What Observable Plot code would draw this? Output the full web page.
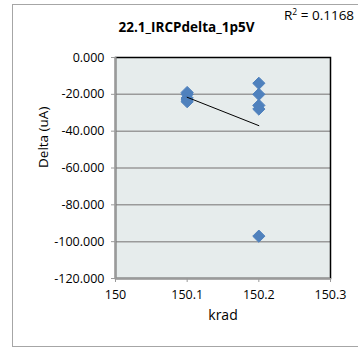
<!DOCTYPE html>
<html>
<head>
<meta charset="utf-8">
<script src="https://cdn.jsdelivr.net/npm/d3@7"></script>
<script src="https://cdn.jsdelivr.net/npm/@observablehq/plot@0.6"></script>
<style>
  html, body { margin: 0; padding: 0; background: #fff; }
  #wrap { position: relative; width: 358px; height: 348px; overflow: hidden; font-family: "Open Sans", sans-serif; }
  #frame { position: absolute; left: 12px; top: 4px; width: 400px; height: 343px; border: 1.5px solid #a6a6a6; box-sizing: border-box; }
  #title { position: absolute; left: 0; width: 373px; top: 18px; text-align: center; font-weight: bold; font-size: 13.5px; color: #000; }
  #r2 { position: absolute; left: 284px; top: 6px; font-size: 13.5px; color: #000; white-space: nowrap; }
  #chart { position: absolute; left: 0; top: 0; }
</style>
</head>
<body>
<div id="wrap">
  <div id="frame"></div>
  <div id="chart"></div>
  <div id="title">22.1_IRCPdelta_1p5V</div>
  <div id="r2">R<sup style="font-size:8.5px;vertical-align:5px;line-height:0">2</sup> = 0.1168</div>
</div>
<script>
// Data
const kradA = 150.1;
const deltaA = [-19, -20, -22, -23, -24];
const kradB = 150.2;
const deltaB = [-14, -20, -26, -28, -97];
const yTicks = [0, -20, -40, -60, -80, -100, -120];
const xTicks = [150, 150.1, 150.2, 150.3];

const points = [
  ...deltaA.map(v => ({krad: kradA, delta: v})),
  ...deltaB.map(v => ({krad: kradB, delta: v}))
];

const chart = Plot.plot({
  width: 358,
  height: 348,
  marginLeft: 115,
  marginRight: 28,
  marginTop: 57,
  marginBottom: 70,
  style: {background: "transparent", fontFamily: "'Open Sans', sans-serif", fontSize: "12px", color: "#000"},
  x: {domain: [150, 150.3], ticks: xTicks, tickFormat: d => String(+d.toFixed(1)), label: null},
  y: {domain: [-120, 0], ticks: yTicks, tickFormat: d => d.toFixed(3), label: null},
  marks: [
    Plot.frame({fill: "#E6ECEC", stroke: null}),
    Plot.ruleY(yTicks.filter(t => t !== -120 && t !== 0), {stroke: "#9a9a9a", strokeWidth: 1.5}),
    Plot.frame({stroke: "#000", strokeWidth: 1.5}),
    Plot.ruleX([150], {stroke: "#9a9a9a", strokeWidth: 2}),
    Plot.ruleY([-120], {stroke: "#9a9a9a", strokeWidth: 2}),
    Plot.axisY({ticks: yTicks, tickFormat: d => d.toFixed(3), tickSize: 4, tickPadding: 7, stroke: "#9a9a9a", label: null, fontSize: 12.5}),
    Plot.axisX({ticks: xTicks, tickFormat: d => String(+d.toFixed(1)), tickSize: 4, tickPadding: 8, stroke: "#9a9a9a", label: null, fontSize: 12.5}),
    Plot.dot(points, {x: "krad", y: "delta", symbol: "diamond2", r: 5.5, fill: "#4F81BD", stroke: "#4F81BD", strokeWidth: 1}),
    Plot.linearRegressionY(points, {x: "krad", y: "delta", ci: 0, stroke: "#000", strokeWidth: 1}),
    Plot.text(["Delta (uA)"], {frameAnchor: "left", dx: -72, rotate: -90, fontSize: 13.5}),
    Plot.text(["krad"], {frameAnchor: "bottom", dy: 41, fontSize: 14})
  ]
});
document.getElementById("chart").appendChild(chart);
</script>
</body>
</html>
